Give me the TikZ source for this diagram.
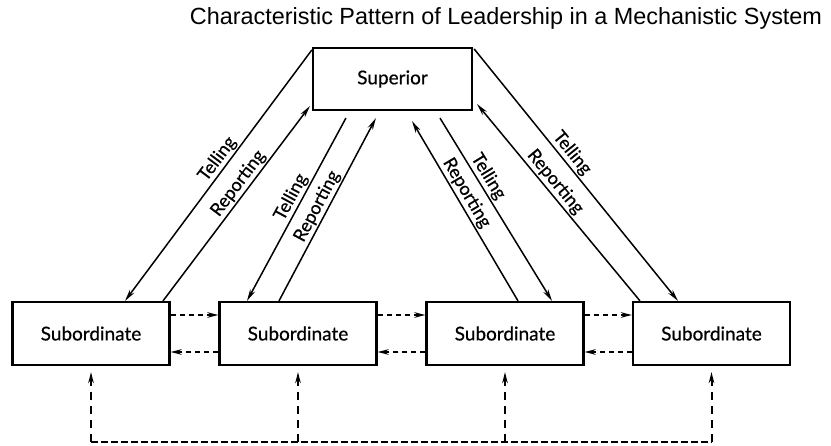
\documentclass[tikz,border=0pt]{standalone}
\usepackage{fontspec}
\setmainfont{Liberation Sans}
\newfontfamily\boxfont[FakeBold=0.5]{Lato}
\usetikzlibrary{arrows.meta, calc}

\begin{document}
\begin{tikzpicture}[x=1pt, y=1pt,
	box/.style={draw, line width=2.2pt, minimum width=157pt, minimum height=63pt, inner sep=0pt, font=\boxfont\fontsize{19}{19}\selectfont},
	talk/.style={line width=1.5pt, -{Stealth[length=12pt, width=5.5pt]}},
	lbl/.style={sloped, above, inner sep=1.5pt, font=\boxfont\fontsize{18}{18}\selectfont},
	side/.style={line width=2pt, dash pattern=on 5pt off 4pt, -{Stealth[length=11pt, width=5.5pt]}},
	link/.style={line width=2pt, dash pattern=on 7pt off 3pt}]
	\useasboundingbox (0,0) rectangle (831,445);
	\node (title) at (506,427) {\resizebox{632pt}{!}{Characteristic Pattern of Leadership in a Mechanistic System}};
	\node [box, minimum width=159pt, minimum height=62pt] (sup) at (392.5,366) {Superior};
	\foreach \n/\x in {1/91, 2/298, 3/505, 4/711.5}
		\node [box] (sub\n) at (\x,111.5) {Subordinate};
	\draw [talk] ($(sup.north west)+(0,-3)$) -- node [lbl, pos=0.46] {Telling} ($(sub1.north)+(34,0)$);
	\draw [talk] ($(sub1.north)+(72,0)$) -- node [lbl, pos=0.57] {Reporting} ($(sup.south west)+(-2,5)$);
	\draw [talk] ($(sup.south west)+(34,-7)$) -- node [lbl, pos=0.46] {Telling} ($(sub2.north)+(-51,0)$);
	\draw [talk] ($(sub2.north)+(-19,0)$) -- node [lbl, pos=0.49] {Reporting} ($(sup.south west)+(64,-7)$);
	\draw [talk] ($(sub3.north)+(13,0)$) -- node [lbl, pos=0.57] {Reporting} ($(sup.south)+(19.5,-10)$);
	\draw [talk] ($(sup.south)+(47.5,-7)$) -- node [lbl, pos=0.35] {Telling} ($(sub3.north)+(47,0)$);
	\draw [talk] ($(sub4.north)+(-71.5,0)$) -- node [lbl, pos=0.57] {Reporting} ($(sup.south east)+(4,7)$);
	\draw [talk] ($(sup.north east)+(1,-2)$) -- node [lbl, pos=0.44] {Telling} ($(sub4.north)+(-33.5,0)$);
	\foreach \a/\b in {1/2, 2/3, 3/4} {
		\draw [side] ([yshift=18.5pt]sub\a.east) -- ([yshift=18.5pt]sub\b.west);
		\draw [side] ([yshift=-18.5pt]sub\b.west) -- ([yshift=-18.5pt]sub\a.east);
	}
	\coordinate (bus) at (0,3);
	\draw [link] (sub1.south |- bus) -- (sub4.south |- bus);
	\foreach \n in {1,...,4}
		\draw [line width=2pt, dash pattern=on 8pt off 6pt, -{Stealth[length=11pt, width=5.5pt]}, shorten >=6pt] (sub\n.south |- bus) -- (sub\n.south);
\end{tikzpicture}
\end{document}
